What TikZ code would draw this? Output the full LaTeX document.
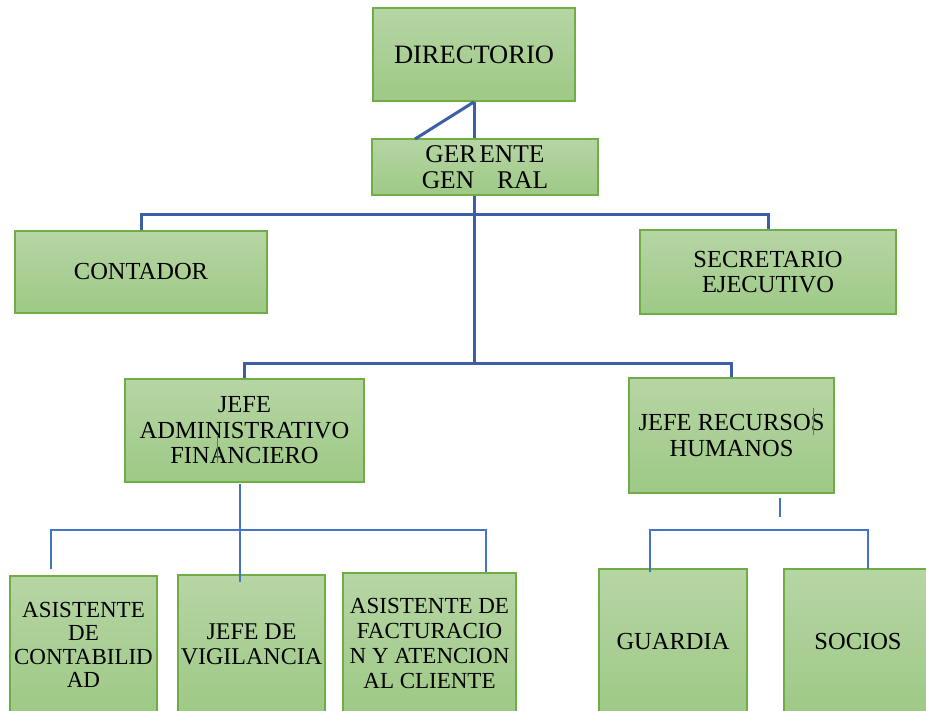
\documentclass[tikz,border=0pt]{standalone}
\usepackage{fontspec}
\setmainfont{Liberation Serif}
\definecolor{boxtop}{RGB}{182,213,164}
\definecolor{boxbot}{RGB}{158,201,134}
\definecolor{boxborder}{RGB}{112,173,71}
\definecolor{thickblue}{RGB}{59,94,166}
\definecolor{thinblue}{RGB}{68,114,196}
\tikzset{
  box/.style={draw=boxborder, line width=1.8pt, top color=boxtop, bottom color=boxbot,
    align=center, inner sep=0pt, font=\fontsize{24.5}{25.5}\selectfont},
  thickline/.style={draw=thickblue, line width=3pt},
  thinline/.style={draw=thinblue, line width=1.6pt},
}
\begin{document}
\begin{tikzpicture}[x=1pt,y=-1pt]
\useasboundingbox (0,0) rectangle (926,711);
% boxes
\node[box, minimum width=202pt, minimum height=93pt, font=\fontsize{26.5}{28}\selectfont] (dir) at (474,54.5) {DIRECTORIO};
\node[box, minimum width=226pt, minimum height=56pt, font=\fontsize{25.5}{26}\selectfont] (ger) at (485,167) {GER\hspace{3pt}ENTE\\GEN\hspace{23pt}RAL};
\node[box, minimum width=252pt, minimum height=82pt] (cont) at (141,272) {CONTADOR};
\node[box, minimum width=256pt, minimum height=84pt] (sec) at (768,272) {SECRETARIO\\EJECUTIVO};
\node[box, minimum width=239pt, minimum height=103pt] (jadm) at (244.5,430.5) {JEFE\\ADMINISTRATIVO\\FINANCIERO};
\node[box, minimum width=205pt, minimum height=115pt] (jrh) at (731.5,435.5) {JEFE RECURSOS\\HUMANOS};
\node[box, minimum width=147pt, minimum height=138pt, font=\fontsize{23}{23.5}\selectfont] (asc) at (83.5,645) {ASISTENTE\\DE\\CONTABILID\\AD};
\node[box, minimum width=147pt, minimum height=139pt, font=\fontsize{24}{25}\selectfont] (jvig) at (251.5,644.5) {JEFE DE\\VIGILANCIA};
\node[box, minimum width=173pt, minimum height=141pt, font=\fontsize{23}{25}\selectfont] (afac) at (429.5,643.5) {ASISTENTE DE\\FACTURACIO\\N Y ATENCION\\AL CLIENTE};
\node[box, minimum width=148pt, minimum height=146pt] (guard) at (673,642) {GUARDIA};
\node[box, minimum width=148pt, minimum height=146pt] (soc) at (858,642) {SOCIOS};
% coordinates
\coordinate (b1) at (474,215);
\coordinate (b2) at (474,363);
\coordinate (dg) at (415,139);
\coordinate (j1) at (240,484);
\coordinate (j2) at (240,582);
\coordinate (l1) at (51,569);
\coordinate (l2) at (51,530);
\coordinate (l3) at (486,530);
\coordinate (l4) at (486,572);
\coordinate (r0) at (780,498);
\coordinate (r0e) at (780,517);
\coordinate (r1) at (650,572);
\coordinate (r2) at (650,530);
\coordinate (r3) at (868,530);
\coordinate (r4) at (868,569);
\coordinate (m1) at (217,435);
\coordinate (m1e) at (217,463);
\coordinate (m2) at (813,408);
\coordinate (m2e) at (813,435);
% thick connectors
\draw[thickline] (dir.south) -- (dir.south |- ger.north);
\draw[thickline] (dir.south) -- (dg);
\draw[thickline] (dir.south |- ger.south) -- (b2);
\draw[thickline] (cont.north) |- (b1) -| (sec.north);
\draw[thickline] (jadm.north) |- (b2) -| (jrh.north);
% thin connectors
\draw[thinline] (j1) -- (j2);
\draw[thinline] (l1) -- (l2) -- (l3) -- (l4);
\draw[thinline] (r0) -- (r0e);
\draw[thinline] (r1) -- (r2) -- (r3) -- (r4);
\draw[thinline, line width=1pt] (m1) -- (m1e);
\draw[thinline, line width=1pt] (m2) -- (m2e);
\end{tikzpicture}
\end{document}
